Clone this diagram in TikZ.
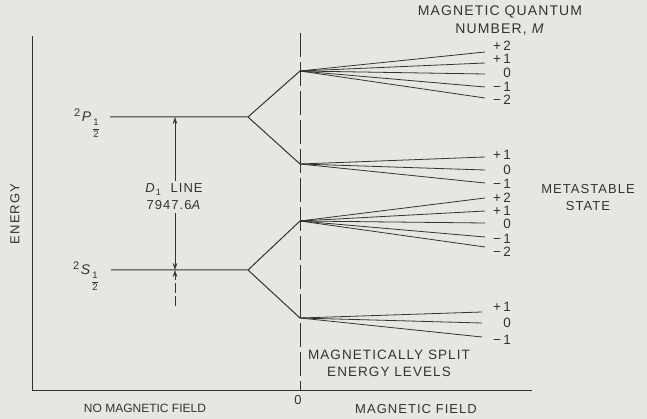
\documentclass[tikz,border=0pt]{standalone}
\usepackage{fontspec}
\setmainfont{Liberation Sans}
\newfontfamily\lblfont[LetterSpace=8]{Liberation Sans}
\usepackage{amsmath}
\usepackage{xcolor}
\definecolor{paper}{HTML}{E7E6E1}
\definecolor{ink}{HTML}{333333}
\usetikzlibrary{arrows.meta,positioning}
\newcommand\termlbl[1]{\raisebox{0.7ex}{\fontsize{11}{11}\selectfont 2}\hspace{1.5pt}\textit{#1}\hspace{1pt}%
  \raisebox{-10pt}{\fontsize{9.5}{10}\selectfont$\genfrac{}{}{0.4pt}{0}{\hbox{1}}{\hbox{2}}$}}

\begin{document}
\begin{tikzpicture}[x=1pt,y=-1pt,
  lvl/.style={draw=ink,line width=1pt},
  fan/.style={draw=ink,line width=0.8pt},
  lbl/.style={font=\lblfont\fontsize{13}{17}\selectfont,text=ink,inner sep=0pt,align=center},
  num/.style={font=\fontsize{13.5}{14}\selectfont,text=ink,inner sep=0pt,anchor=east},
  term/.style={font=\fontsize{14}{15}\selectfont,text=ink,inner sep=0pt},
  arr/.style={-{Stealth[length=7pt,width=4.5pt]},draw=ink,line width=0.5pt}]
  \fill[paper] (0,0) rectangle (647,419);
  \useasboundingbox (0,0) rectangle (647,419);
  % axes and zero-field line
  \coordinate (ytop) at (32,36);
  \coordinate (orig) at (32,390);
  \coordinate (xend) at (532,390);
  \coordinate (ztop) at (300,33);
  \coordinate (zbot) at (300,390);
  \draw[lvl] (ytop) -- (orig) -- (xend);
  \draw[draw=ink,line width=0.7pt,dash pattern=on 24pt off 5pt] (ztop) -- (zbot);
  % unsplit levels
  \coordinate (p0) at (110,117);
  \coordinate (p1) at (248,117);
  \coordinate (s0) at (111,270);
  \coordinate (s1) at (248,270);
  \coordinate (pu) at (300,71);
  \coordinate (pd) at (300,164);
  \coordinate (su) at (300,221);
  \coordinate (sd) at (300,318);
  \draw[lvl] (p0) -- (p1) -- (pu);
  \draw[lvl] (p1) -- (pd);
  \draw[lvl] (s0) -- (s1) -- (su);
  \draw[lvl] (s1) -- (sd);
  \node[term] (pname) at (87,123) {\termlbl{P}};
  \node[term] (sname) at (86,276) {\termlbl{S}};
  % split levels
  \foreach \e/\t/\m [count=\i] in {52/46/+\,2,63/59/+\,1,74/73/0,87/87/−\,1,98/100/−\,2}{
    \coordinate (a\i) at (485,\e);
    \node[num] (ma\i) at (511,\t) {\m};
    \draw[fan] (pu) -- (a\i);
  }
  \foreach \e/\t/\m [count=\i] in {157/155/+\,1,170/170/0,183/184/−\,1}{
    \coordinate (b\i) at (485,\e);
    \node[num] (mb\i) at (511,\t) {\m};
    \draw[fan] (pd) -- (b\i);
  }
  \foreach \e/\t/\m [count=\i] in {198/198/+\,2,211/211/+\,1,223/224/0,237/239/−\,1,247/252/−\,2}{
    \coordinate (c\i) at (485,\e);
    \node[num] (mc\i) at (511,\t) {\m};
    \draw[fan] (su) -- (c\i);
  }
  \foreach \e/\t/\m [count=\i] in {312/307/+\,1,323/323/0,337/340/−\,1}{
    \coordinate (d\i) at (482,\e);
    \node[num] (md\i) at (511,\t) {\m};
    \draw[fan] (sd) -- (d\i);
  }
  % D1 line
  \node[lbl] (dline) at (174,197) {\textit{D}\textsubscript{1}\ \ LINE\\7947.6\textit{A}};
  \coordinate (ptip) at (175,117);
  \coordinate (stip) at (175,270);
  \coordinate (sfoot) at (175,306);
  \draw[arr] (dline.north -| ptip) ++(0,-3) -- (ptip);
  \draw[arr] (dline.south -| stip) ++(0,3) -- (stip);
  \draw[arr,dash pattern=on 10pt off 3pt] (sfoot) -- (stip);
  % texts
  \node[lbl,font=\lblfont\fontsize{14}{18}\selectfont] (mqn) at (500,21) {MAGNETIC QUANTUM\\NUMBER, \textit{M}};
  \node[lbl] (meta) at (588,198) {METASTABLE\\STATE};
  \node[lbl,rotate=90] (energy) at (15,214) {ENERGY};
  \node[lbl,font=\lblfont\fontsize{13.5}{17}\selectfont] (split) at (389,363) {MAGNETICALLY SPLIT\\ENERGY LEVELS};
  \node[lbl] (zero) at (298,400) {0};
  \node[lbl,font=\fontsize{12}{14}\selectfont] (nofield) at (145,408) {NO MAGNETIC FIELD};
  \node[lbl] (field) at (416,409) {MAGNETIC FIELD};
\end{tikzpicture}
\end{document}
